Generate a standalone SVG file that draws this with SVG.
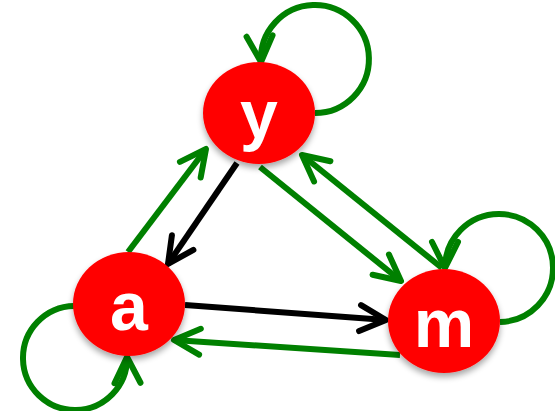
<svg xmlns="http://www.w3.org/2000/svg" width="555" height="411" viewBox="0 0 555 411">
<style>
.g{fill:none;stroke:#008000;stroke-width:6}
.k{fill:none;stroke:#000;stroke-width:6}
.n{fill:#ff0000;filter:url(#sh)}
.t{font-family:"Liberation Sans",Arial,sans-serif;font-weight:bold;font-size:68px;fill:#fff;text-anchor:middle}
</style>
<defs>
<filter id="sh" x="-30%" y="-30%" width="160%" height="170%">
<feGaussianBlur in="SourceAlpha" stdDeviation="3"/>
<feOffset dy="4" result="b"/>
<feComponentTransfer><feFuncA type="linear" slope="0.35"/></feComponentTransfer>
<feMerge><feMergeNode/><feMergeNode in="SourceGraphic"/></feMerge>
</filter>
<marker id="ag" markerUnits="userSpaceOnUse" viewBox="-34 -20 40 40" refX="0" refY="0" markerWidth="40" markerHeight="40" orient="auto">
<path d="M -26 -13 L 0 0 L -26 13" fill="none" stroke="#008000" stroke-width="6" stroke-linecap="round" stroke-linejoin="round"/>
</marker>
<marker id="ak" markerUnits="userSpaceOnUse" viewBox="-34 -20 40 40" refX="0" refY="0" markerWidth="40" markerHeight="40" orient="auto">
<path d="M -26 -13 L 0 0 L -26 13" fill="none" stroke="#000" stroke-width="6" stroke-linecap="round" stroke-linejoin="round"/>
</marker>
</defs>
<g id="connectors">
<path class="k" d="M 237 163 L 168 264" marker-end="url(#ak)"/>
<path class="k" d="M 185 305 L 386 320" marker-end="url(#ak)"/>
<path class="g" d="M 400 355 L 174 340" marker-end="url(#ag)"/>
<path class="g" d="M 128 252 L 206 149" marker-end="url(#ag)"/>
<path class="g" d="M 260 167 L 401 281" marker-end="url(#ag)"/>
<path class="g" d="M 442 268 L 302 155" marker-end="url(#ag)"/>
<path class="g" d="M 315 113 A 54 54 0 1 0 261 62" marker-end="url(#ag)"/>
<path class="g" d="M 500 322 A 54 54 0 1 0 445 268" marker-end="url(#ag)"/>
<path class="g" d="M 74 306 A 52 52 0 1 0 127 357" marker-end="url(#ag)"/>
</g>
<g id="node-y">
<ellipse class="n" cx="259" cy="113" rx="56" ry="51"/>
<text class="t" x="259" y="138">y</text>
</g>
<g id="node-a">
<ellipse class="n" cx="129" cy="304" rx="56" ry="52"/>
<text class="t" x="129" y="330">a</text>
</g>
<g id="node-m">
<ellipse class="n" cx="444" cy="321" rx="56" ry="52"/>
<text class="t" x="444" y="347">m</text>
</g>
</svg>
